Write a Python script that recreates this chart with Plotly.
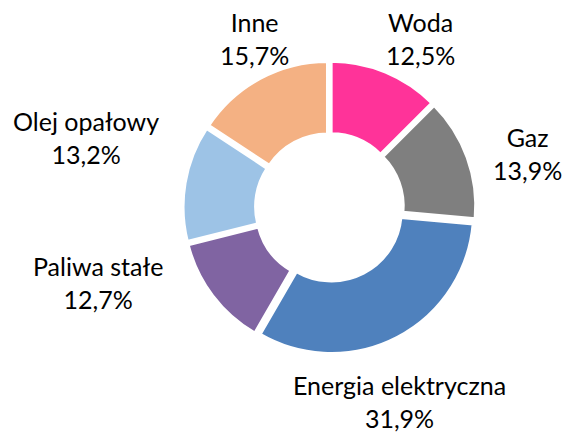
import plotly.graph_objects as go

# Struktura wydatków na nośniki energii
categories = ["Woda", "Gaz", "Energia elektryczna", "Paliwa stałe", "Olej opałowy", "Inne"]
shares = [12.5, 13.9, 31.9, 12.7, 13.2, 15.7]
colors = ["#FF3399", "#7F7F7F", "#4F81BD", "#8064A2", "#9DC3E6", "#F4B183"]

# label anchor points (px from top-left), one per category
label_xy = [(420, 38), (527, 154), (399, 401), (98, 282), (86, 137), (254, 38)]

W, H = 565, 432
cx, cy, r = 329.5, 207.5, 146.5  # donut centre and outer extent in px
pull = 0.03
FONT = dict(family="Lato, Carlito, sans-serif", size=25, color="#000000")

fig = go.Figure(
    go.Pie(
        labels=categories,
        values=shares,
        textinfo="none",
        hole=0.49,
        sort=False,
        direction="clockwise",
        rotation=0,
        pull=pull,
        marker=dict(colors=colors, line=dict(color="white", width=3)),
        domain=dict(
            x=[(cx - r) / W, (cx + r) / W],
            y=[(H - cy - r) / H, (H - cy + r) / H],
        ),
        showlegend=False,
        hoverinfo="label+percent",
    )
)

for name, val, (lx, ly) in zip(categories, shares, label_xy):
    fig.add_annotation(
        x=lx / W,
        y=1 - ly / H,
        xref="paper",
        yref="paper",
        text=f"{name}<br>{str(val).replace('.', ',')}%",
        showarrow=False,
        xanchor="center",
        yanchor="middle",
        align="center",
        font=FONT,
    )

fig.update_layout(
    width=W,
    height=H,
    margin=dict(l=0, r=0, t=0, b=0),
    paper_bgcolor="white",
    plot_bgcolor="white",
)

fig.write_html("out.html")
